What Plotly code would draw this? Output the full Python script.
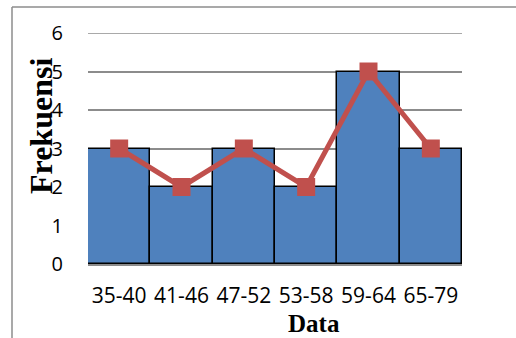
import plotly.graph_objects as go

# Frequency distribution: histogram bars with a frequency polygon overlay
kelas = ["35-40", "41-46", "47-52", "53-58", "59-64", "65-79"]
frekuensi = [3, 2, 3, 2, 5, 3]
y_ticks = [0, 1, 2, 3, 4, 5, 6]

W, H = 516, 338
L, R, T, B = 88, 54, 33, 74
pw, ph = W - L - R, H - T - B


def px_x(px):
    return (px - L) / pw


def px_y(py):
    return (H - B - py) / ph


fig = go.Figure()
fig.add_trace(go.Bar(
    x=kelas, y=frekuensi,
    marker=dict(color="#4F81BD", line=dict(color="#000000", width=1.5)),
    showlegend=False,
))
fig.add_trace(go.Scatter(
    x=kelas, y=frekuensi, mode="lines+markers",
    line=dict(color="#C0504D", width=5),
    marker=dict(symbol="square", size=18, color="#C0504D"),
    showlegend=False,
))

grid = "#8c8c8c"
fig.update_layout(
    width=W, height=H,
    margin=dict(l=L, r=R, t=T, b=B),
    paper_bgcolor="white", plot_bgcolor="white",
    bargap=0,
    font=dict(family="Open Sans, Liberation Sans, sans-serif", size=19, color="#000"),
    xaxis=dict(
        showgrid=False, showline=True, linecolor=grid, linewidth=1.5,
        ticks="", tickfont=dict(size=21), ticklabelstandoff=12,
    ),
    yaxis=dict(
        range=[0, 6], tickvals=y_ticks, showgrid=True, gridcolor=grid,
        gridwidth=1.5, zeroline=False, showline=False, ticks="",
        tickfont=dict(size=20), ticklabelstandoff=24, layer="below traces",
    ),
    annotations=[
        dict(text="<b>Frekuensi</b>", textangle=-90, xref="paper", yref="paper",
             x=px_x(41), y=px_y(126), xanchor="center", yanchor="middle",
             showarrow=False,
             font=dict(family="Liberation Serif, serif", size=32, color="#000")),
        dict(text="<b>Data</b>", xref="paper", yref="paper",
             x=px_x(314), y=px_y(323), xanchor="center", yanchor="middle",
             showarrow=False,
             font=dict(family="Liberation Serif, serif", size=25, color="#000")),
    ],
    shapes=[
        # gridline at the top of the value range
        dict(type="line", xref="paper", yref="y", x0=0, x1=1, y0=6, y1=6,
             line=dict(color=grid, width=1.5), layer="below"),
        # chart frame
        dict(type="line", xref="paper", yref="paper",
             x0=px_x(12), x1=px_x(516), y0=px_y(7), y1=px_y(7),
             line=dict(color=grid, width=1.5)),
        dict(type="line", xref="paper", yref="paper",
             x0=px_x(12), x1=px_x(12), y0=px_y(7), y1=px_y(338),
             line=dict(color=grid, width=1.5)),
    ],
)

fig.write_html("out.html")
